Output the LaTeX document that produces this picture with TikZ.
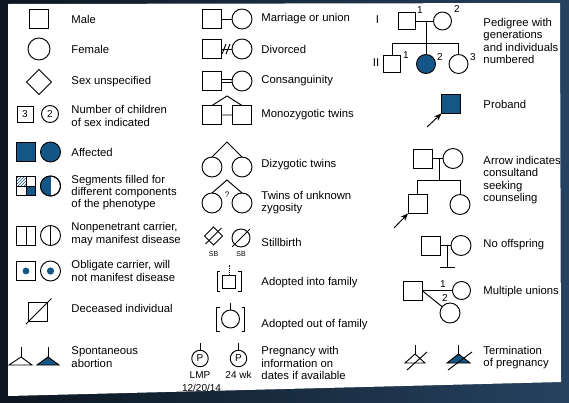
\documentclass[tikz,border=0pt]{standalone}
\usepackage{fontspec}
\setmainfont{Liberation Sans}
\usetikzlibrary{shapes.geometric,patterns,arrows.meta}

\definecolor{pedblue}{RGB}{20,86,134}
\definecolor{slidedark}{RGB}{12,22,32}
\definecolor{slideblue}{RGB}{38,66,96}

\begin{document}
\begin{tikzpicture}[x=1pt, y=-1pt, line width=0.95pt,
    male/.style={draw, rectangle, minimum size=19, inner sep=0, outer sep=0},
    female/.style={draw, circle, minimum size=20, inner sep=0, outer sep=0},
    sexu/.style={draw, diamond, minimum size=25, inner sep=0, outer sep=0},
    txt/.style={anchor=west, align=left, inner sep=0,
        font=\fontsize{11.3}{12.3}\selectfont},
    num/.style={inner sep=0, font=\fontsize{10}{10}\selectfont},
    tiny/.style={inner sep=0, font=\fontsize{7}{7}\selectfont},
    arr/.style={-{Stealth[length=7.5pt, width=6pt]}}]

    % Parameters
    \def\colA{71}   % text column, left
    \def\colB{261}  % text column, middle
    \def\colC{483}  % text column, right

    \useasboundingbox (0,0) rectangle (569,402);

    % Slide background and white panel
    \shade[left color=slidedark, right color=slideblue] (0,0) rectangle (569,402);
    \fill[white] (8,4) -- (560,3) -- (561,382) -- (8,396) -- cycle;

    % ---------------- left column ----------------

    % Male, female, sex unspecified
    \node[male] (male) at (39,19) {};
    \node[txt] (tmale) at (\colA,19) {Male};
    \node[female, minimum size=22] (female) at (39,49) {};
    \node[txt] (tfemale) at (\colA,49) {Female};
    \node[sexu] (unsp) at (39,82) {};
    \node[txt] (tunsp) at (\colA,82) {Sex unspecified};

    % Number of children
    \node[male, minimum size=16, num] (nchm) at (25,114) {3};
    \node[female, minimum size=17, num] (nchf) at (50,114) {2};
    \node[txt] (tnch) at (\colA,116) {Number of children\\of sex indicated};

    % Affected
    \node[male, fill=pedblue] (affm) at (26,152) {};
    \node[female, fill=pedblue] (afff) at (50.5,152) {};
    \node[txt] (taff) at (\colA,152) {Affected};

    % Segments
    \node[male] (segm) at (26,186) {};
    \fill[pedblue] (segm.center) rectangle (segm.south east);
    \fill[pattern=north east lines, pattern color=pedblue] (segm.north west) rectangle (segm.center);
    \draw (segm.north west) rectangle (segm.south east)
          (segm.north) -- (segm.south) (segm.west) -- (segm.east);
    \node[female] (segf) at (50.5,186) {};
    \begin{scope}
        \clip (segf) circle (10);
        \fill[pedblue] ([xshift=-11pt]segf.north) rectangle (segf.south);
    \end{scope}
    \draw (segf) circle (10);
    \node[txt] (tseg) at (\colA,192.5) {Segments filled for\\different components\\of the phenotype};

    % Nonpenetrant carrier
    \node[male] (npm) at (26,235.5) {};
    \node[female] (npf) at (50.5,235.5) {};
    \draw (npm.north) -- (npm.south) (npf.north) -- (npf.south);
    \node[txt] (tnp) at (\colA,234) {Nonpenetrant carrier,\\may manifest disease};

    % Obligate carrier
    \node[male] (obm) at (26,271) {};
    \node[female] (obf) at (50.5,271) {};
    \fill[pedblue] (obm) circle (3.4) (obf) circle (3.6);
    \node[txt] (tob) at (\colA,271) {Obligate carrier, will\\not manifest disease};

    % Deceased
    \node[male] (dec) at (38,312) {};
    \draw ([shift={(-2.5,2.5)}]dec.south west) -- ([shift={(4,-4)}]dec.north east);
    \node[txt] (tdec) at (\colA,308) {Deceased individual};

    % Spontaneous abortion
    \coordinate (sa1) at (21,357);
    \coordinate (sa2) at (48,357);
    \draw (sa1) -- ++(0,-10) (sa2) -- ++(0,-10);
    \draw (sa1) -- ++(-12,8) -- ++(23,0) -- cycle;
    \filldraw[fill=pedblue] (sa2) -- ++(-11,8) -- ++(22,0) -- cycle;
    \node[txt] (tsa) at (\colA,357) {Spontaneous\\abortion};

    % ---------------- middle column ----------------

    % Marriage or union
    \node[male] (unm) at (212,19) {};
    \node[female] (unf) at (242,19) {};
    \draw (unm) -- (unf);
    \node[txt] (tun) at (\colB,19) {Marriage or union};

    % Divorced
    \node[male] (dvm) at (212,49) {};
    \node[female] (dvf) at (242,49) {};
    \coordinate (dv) at (226,49);
    \draw (dvm) -- (dvf);
    \draw ([shift={(-4,5)}]dv) -- ([shift={(0,-5)}]dv)
          ([shift={(0,5)}]dv) -- ([shift={(4,-5)}]dv);
    \node[txt] (tdv) at (\colB,49) {Divorced};

    % Consanguinity
    \node[male] (csm) at (212,81) {};
    \node[female] (csf) at (242,81) {};
    \draw ([yshift=1.6pt]csm.east) -- ([yshift=1.6pt]csf.west)
          ([yshift=-1.6pt]csm.east) -- ([yshift=-1.6pt]csf.west);
    \node[txt] (tcs) at (\colB,81) {Consanguinity};

    % Monozygotic twins
    \node[male] (mz1) at (212,115) {};
    \node[male] (mz2) at (242,115) {};
    \coordinate (mzt) at (227,96);
    \draw (mz1.north) -- (mzt) -- (mz2.north) (mz1) -- (mz2);
    \node[txt] (tmz) at (\colB,115) {Monozygotic twins};

    % Dizygotic twins
    \node[female] (dz1) at (212,167) {};
    \node[female] (dz2) at (242,167) {};
    \coordinate (dzt) at (227,142);
    \draw (dz1.north) -- (dzt) -- (dz2.north);
    \node[txt] (tdz) at (\colB,165) {Dizygotic twins};

    % Twins of unknown zygosity
    \node[female] (uz1) at (212,203) {};
    \node[female] (uz2) at (242,203) {};
    \coordinate (uzt) at (227,180);
    \draw (uz1.north) -- (uzt) -- (uz2.north);
    \node[num, font=\fontsize{8}{8}\selectfont] (uzq) at (227,195) {?};
    \node[txt] (tuz) at (\colB,202.5) {Twins of unknown\\zygosity};

    % Stillbirth
    \node[sexu, minimum size=18] (sbd) at (213.5,236) {};
    \node[female, minimum size=18] (sbc) at (241,238) {};
    \draw ([shift={(-8,8)}]sbd.center) -- ([shift={(8,-8)}]sbd.center);
    \draw ([shift={(-2.5,2.5)}]sbc.south west) -- ([shift={(2.5,-2.5)}]sbc.north east);
    \node[tiny] (sb1) at (213.5,254) {SB};
    \node[tiny] (sb2) at (241,254) {SB};
    \node[txt] (tsb) at (\colB,242) {Stillbirth};

    % Adopted into family
    \node[male, minimum size=13] (adi) at (229,281.5) {};
    \draw[densely dotted] (adi.north) -- ++(0,-10);
    \draw ([shift={(-9,-10)}]adi.center) -- ++(-3,0) -- ++(0,20) -- ++(3,0)
          ([shift={(9,-10)}]adi.center) -- ++(3,0) -- ++(0,20) -- ++(-3,0);
    \node[txt] (tadi) at (\colB,283) {Adopted into family};

    % Adopted out of family
    \node[female, minimum size=18] (ado) at (230.5,319) {};
    \draw (ado.north) -- ++(0,-7);
    \draw ([shift={(-11,-12)}]ado.center) -- ++(-3,0) -- ++(0,24) -- ++(3,0)
          ([shift={(11,-12)}]ado.center) -- ++(3,0) -- ++(0,24) -- ++(-3,0);
    \node[txt] (tado) at (\colB,325) {Adopted out of family};

    % Pregnancy
    \node[female, minimum size=16.5, num] (pg1) at (200,358.5) {P};
    \node[female, minimum size=16.5, num] (pg2) at (238.5,358.5) {P};
    \draw (pg1.north) -- ++(0,-7) (pg2.north) -- ++(0,-7);
    \node[num] (lmp) at (200,375) {LMP};
    \node[num] (lmpd) at (201.5,388) {12/20/14};
    \node[num] (wk) at (238.5,375) {24 wk};
    \node[txt] (tpg) at (\colB,363) {Pregnancy with\\information on\\dates if available};

    % ---------------- right column ----------------

    % Pedigree with generations
    \node[txt] (gI) at (375.5,20) {I};
    \node[txt] (gII) at (372.5,63) {II};
    \node[male, minimum size=17] (p1) at (406.5,21) {};
    \node[female, minimum size=18] (p2) at (442.5,21) {};
    \node[male, minimum size=17] (c1) at (392,63.5) {};
    \node[female, minimum size=19, fill=pedblue] (c2) at (426,64) {};
    \node[female, minimum size=19] (c3) at (458.5,64) {};
    \coordinate (sib) at (426,43);
    \draw (p1) -- (p2) (sib |- p1) -- (sib) (c1 |- sib) -- (c3 |- sib);
    \draw (c1 |- sib) -- (c1) (c2 |- sib) -- (c2) (c3 |- sib) -- (c3);
    \node[num] (np1) at (420,10) {1};
    \node[num] (np2) at (457,9) {2};
    \node[num] (nc1) at (406,55) {1};
    \node[num] (nc2) at (440,57) {2};
    \node[num] (nc3) at (473,57) {3};
    \node[txt] (tped) at (\colC,41) {Pedigree with\\generations\\and individuals\\numbered};

    % Proband
    \node[male, fill=pedblue] (pb) at (451,104) {};
    \coordinate (pbarrow) at (427,127);
    \draw[arr] (pbarrow) -- (pb.south west);
    \node[txt] (tpb) at (\colC,104) {Proband};

    % Consultand
    \node[male] (km) at (422.5,158.5) {};
    \node[female] (kf) at (453,158.5) {};
    \node[male] (kc1) at (417.5,204) {};
    \node[female] (kc2) at (460,204.5) {};
    \coordinate (ksib) at (439,180);
    \draw (km) -- (kf) (ksib |- km) -- (ksib) (kc1 |- ksib) -- (kc2 |- ksib);
    \draw (kc1 |- ksib) -- (kc1) (kc2 |- ksib) -- (kc2);
    \coordinate (karrow) at (394,228);
    \draw[arr] (karrow) -- (kc1.south west);
    \node[txt] (tk) at (\colC,180) {Arrow indicates\\consultand\\seeking\\counseling};

    % No offspring
    \node[male] (nom) at (431,245.5) {};
    \node[female] (nof) at (461,245.5) {};
    \coordinate (noc) at (447,267);
    \draw (nom) -- (nof) (noc |- nom) -- (noc)
          ([xshift=-7.5pt]noc) -- ([xshift=7.5pt]noc);
    \node[txt] (tno) at (\colC,245) {No offspring};

    % Multiple unions
    \node[male] (mum) at (412.5,290.5) {};
    \node[female, minimum size=18] (muf1) at (461.5,290.5) {};
    \node[female] (muf2) at (450,313) {};
    \draw (mum) -- (muf1) (mum.east) -- (muf2);
    \node[num] (mu1) at (443,284) {1};
    \node[num] (mu2) at (445,298) {2};
    \node[txt] (tmu) at (\colC,292) {Multiple unions};

    % Termination of pregnancy
    \coordinate (tp1) at (415,354);
    \coordinate (tp2) at (458.5,354);
    \draw (tp1) -- ++(0,-9) (tp2) -- ++(0,-9);
    \draw (tp1) -- ++(-10,9) -- ++(20,0) -- cycle;
    \filldraw[fill=pedblue] (tp2) -- ++(-11.5,9) -- ++(23,0) -- cycle;
    \draw ([shift={(-8,16)}]tp1) -- ([shift={(12,-2)}]tp1);
    \draw ([shift={(-10.5,16)}]tp2) -- ([shift={(13.5,-2)}]tp2);
    \node[txt] (ttp) at (\colC,357.5) {Termination\\of pregnancy};

\end{tikzpicture}
\end{document}
